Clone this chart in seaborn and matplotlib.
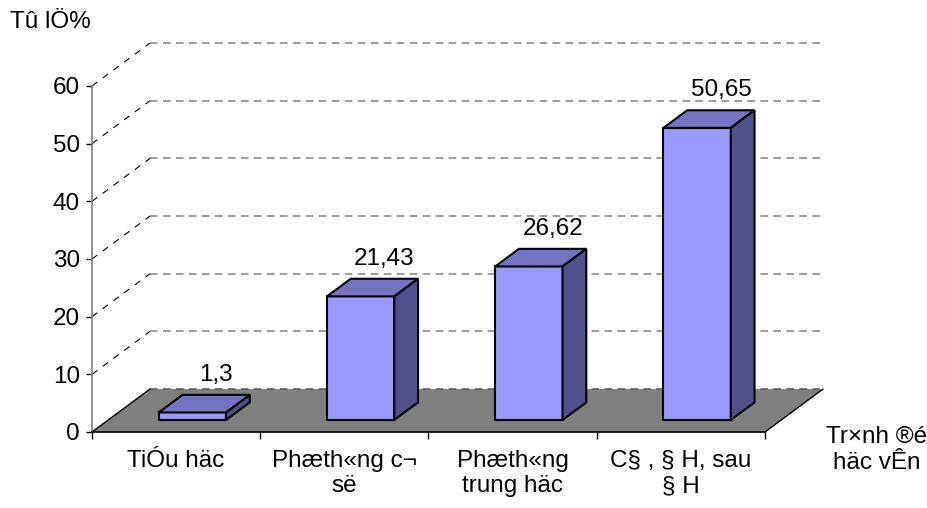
import matplotlib
matplotlib.use("Agg")
import matplotlib.pyplot as plt
from matplotlib.patches import Polygon
import pandas as pd
import seaborn as sns

# --- data -----------------------------------------------------------------
categories = ["TiÓu häc", "Phæth«ng c¬\nsë", "Phæth«ng\ntrung häc", "C§ , § H, sau\n§ H"]
values = [1.3, 21.43, 26.62, 50.65]
y_ticks = [0, 10, 20, 30, 40, 50, 60]
y_title = "Tû lÖ%"
x_title = "Tr×nh ®é\nhäc vÊn"

# --- style ----------------------------------------------------------------
FRONT = "#9999FF"
TOP = "#7474C2"
SIDE = "#50508A"
FLOOR = "#808080"
GRID = "#808080"
FS = 17.5
EDGE_LW = 1.5

sns.set_style("white")
plt.rcParams["font.family"] = ["Liberation Sans", "DejaVu Sans"]
plt.rcParams["text.color"] = "black"
plt.rcParams["xtick.labelcolor"] = "black"
plt.rcParams["ytick.labelcolor"] = "black"

fig = plt.figure(figsize=(9.27, 5.08), dpi=100)
ax = fig.add_axes([0, 0, 1, 1])

# oblique projection: offset of the back wall in data units
DX, DY = 0.345, 7.45
F0, FD = 0.28, 0.41          # bar front depth and bar thickness (fraction of floor depth)
x_lo, x_hi = -0.5, len(categories) - 0.5
ymax = y_ticks[-1]

df = pd.DataFrame({"level": categories, "pct": values})
sns.barplot(data=df, x="level", y="pct", width=0.4, color=FRONT, saturation=1,
            edgecolor="black", linewidth=EDGE_LW, ax=ax, zorder=3)
bars = list(ax.patches)

# push the bars back onto the floor and give them top and side faces
ox, oy = F0 * DX, F0 * DY
ddx, ddy = FD * DX, FD * DY
for p, v in zip(bars, values):
    x0 = p.get_x() + ox
    w = p.get_width()
    h = p.get_height()
    p.set_x(x0)
    p.set_y(oy)
    p.set_joinstyle("miter")
    x1 = x0 + w
    yt = oy + h
    ax.add_patch(Polygon([(x0, yt), (x1, yt), (x1 + ddx, yt + ddy), (x0 + ddx, yt + ddy)],
                         closed=True, fc=TOP, ec="black", lw=EDGE_LW, zorder=3))
    ax.add_patch(Polygon([(x1, oy), (x1 + ddx, oy + ddy), (x1 + ddx, yt + ddy), (x1, yt)],
                         closed=True, fc=SIDE, ec="black", lw=EDGE_LW, zorder=3))
    ax.annotate(f"{v:g}".replace(".", ","), (x0 + w / 2 + ddx, yt + ddy),
                xytext=(0, 10), textcoords="offset points",
                ha="center", va="baseline", fontsize=FS, zorder=5)

# floor
ax.add_patch(Polygon([(x_lo, 0), (x_hi, 0), (x_hi + DX, DY), (x_lo + DX, DY)],
                     closed=True, fc=FLOOR, ec="none", zorder=1))
ax.plot([x_lo, x_lo + DX], [0, DY], color="black", lw=1.0, zorder=2)
ax.plot([x_hi, x_hi + DX], [0, DY], color="black", lw=1.0, zorder=2)
ax.plot([x_lo + DX, x_hi + DX], [DY, DY], color="#555555", lw=1.1,
        ls=(0, (5, 3.5)), zorder=1.5)

# back wall gridlines and side-wall diagonals
for v in y_ticks[1:]:
    ax.plot([x_lo + DX, x_hi + DX], [v + DY, v + DY], color=GRID, lw=1.1,
            ls=(0, (5, 3.5)), zorder=1.5)
    ax.plot([x_lo, x_lo + DX], [v, v + DY], color="black", lw=0.8,
            ls=(0, (6, 6)), zorder=1.5)

# axes
ax.set_xlim(-1.0467, 4.4630)
ax.set_ylim(-13.18, 74.91)
ax.set_xlabel("")
ax.set_ylabel("")
ax.set_yticks(y_ticks)
ax.set_xticks(range(len(categories)), categories)
ax.set_xticks([i - 0.5 for i in range(len(categories) + 1)], minor=True)
ax.tick_params(axis="y", left=True, length=4.3, width=1, pad=4.3, labelsize=FS,
               color="black", direction="out")
ax.tick_params(axis="x", which="major", bottom=True, length=0, pad=13, labelsize=FS)
ax.tick_params(axis="x", which="minor", bottom=True, length=5, width=1,
               color="black", direction="out")
for lab in ax.get_xticklabels():
    lab.set_linespacing(1.25)

for s in ("top", "right"):
    ax.spines[s].set_visible(False)
ax.spines["left"].set_position(("data", x_lo))
ax.spines["left"].set_bounds(0, ymax)
ax.spines["left"].set_color("#808080")
ax.spines["left"].set_linewidth(1.2)
ax.spines["bottom"].set_position(("data", 0))
ax.spines["bottom"].set_bounds(x_lo, x_hi)
ax.spines["bottom"].set_color("black")
ax.spines["bottom"].set_linewidth(1.2)
ax.patch.set_visible(False)

fig.text(10 / 927, 1 - 22 / 508, y_title, ha="left", va="center", fontsize=FS)
fig.text(877 / 927, 1 - 450 / 508, x_title, ha="center", va="center",
         fontsize=FS, linespacing=1.25)

fig.savefig("out.png", dpi=100, facecolor="white")
